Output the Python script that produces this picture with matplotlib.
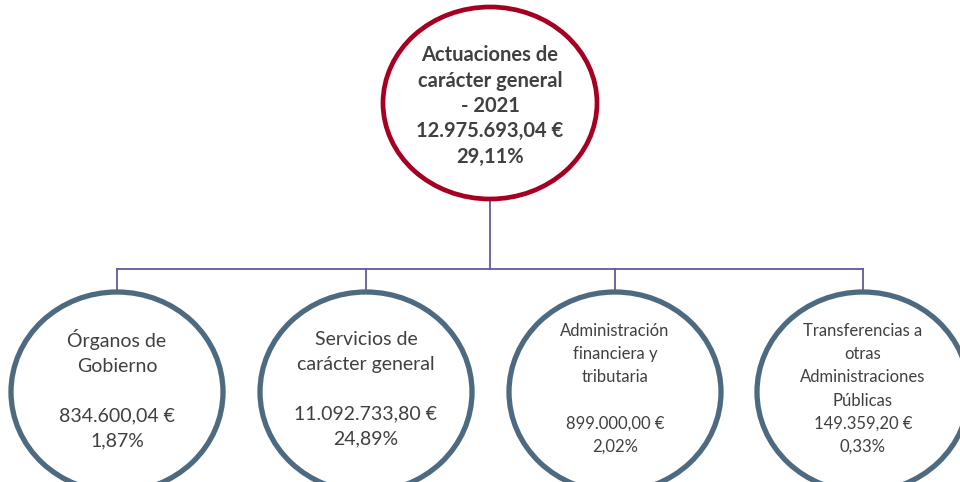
import matplotlib.pyplot as plt
from matplotlib.patches import Ellipse

# Data
top_title = "Actuaciones de\ncarácter general\n- 2021"
top_amount = "12.975.693,04 €"
top_pct = "29,11%"

names = ["Órganos de\nGobierno", "Servicios de\ncarácter general",
         "Administración\nfinanciera y\ntributaria",
         "Transferencias a\notras\nAdministraciones\nPúblicas"]
amounts = ["834.600,04 €", "11.092.733,80 €", "899.000,00 €", "149.359,20 €"]
pcts = ["1,87%", "24,89%", "2,02%", "0,33%"]
gaps = ["\n\n", "\n\n", "\n\n", "\n"]
font_sizes = [14, 14, 12, 12]
spacings = [1.55, 1.55, 1.55, 1.55]

plt.rcParams['font.family'] = ['Lato', 'DejaVu Sans']

fig = plt.figure(figsize=(9.6, 4.82), dpi=100)
ax = fig.add_axes([0, 0, 1, 1])
ax.set_xlim(0, 960)
ax.set_ylim(482, 0)
ax.axis('off')

txt_color = '#404040'
line_color = '#5f5b9c'
child_x = [117, 366, 615, 863]

# connectors
ax.plot([490, 490], [199, 269], color=line_color, lw=1.3)
ax.plot([child_x[0], child_x[-1]], [269, 269], color=line_color, lw=1.3)
for x in child_x:
    ax.plot([x, x], [269, 292], color=line_color, lw=1.3)

# top node
ax.add_patch(Ellipse((490, 103), 214, 192, facecolor='white',
                     edgecolor='#a50021', lw=3.4, zorder=3))
ax.text(490, 106, top_title + "\n" + top_amount + "\n" + top_pct,
        ha='center', va='center', fontsize=14.5, fontweight='bold',
        color=txt_color, linespacing=1.33, zorder=4)

# child nodes
for x, name, amt, pct, gap, fs, ls in zip(child_x, names, amounts, pcts,
                                          gaps, font_sizes, spacings):
    ax.add_patch(Ellipse((x, 392), 212, 200, facecolor='white',
                         edgecolor='#4e6a80', lw=3.8, zorder=3))
    ax.text(x, 389, name + gap + amt + "\n" + pct, ha='center', va='center',
            fontsize=fs, color=txt_color, linespacing=ls, zorder=4)

fig.savefig('out.png', dpi=100)
